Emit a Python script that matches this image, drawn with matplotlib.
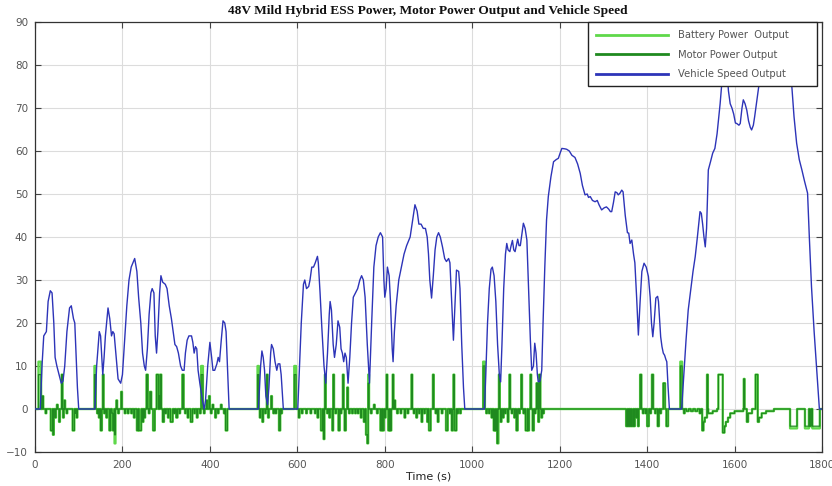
import numpy as np
import matplotlib
matplotlib.use("Agg")
import matplotlib.pyplot as plt
from matplotlib.patches import Rectangle

# ---------------- data ----------------
title = "48V Mild Hybrid ESS Power, Motor Power Output and Vehicle Speed"
x_label = "Time (s)"
legend_labels = ["Battery Power  Output", "Motor Power Output", "Vehicle Speed Output"]
x_ticks = [0, 200, 400, 600, 800, 1000, 1200, 1400, 1600, 1800]
y_ticks = [-10, 0, 10, 20, 30, 40, 50, 60, 70, 80, 90]

speed_t = [0, 12, 16, 20, 26, 30, 35, 39, 43, 46, 50, 55, 60, 64, 68, 73, 79, 83, 88, 91, 97, 100,
           137, 141, 147, 150, 155, 158, 161, 167, 171, 175, 178, 181, 184, 190, 196, 200, 205, 210,
           215, 220, 228, 233, 237, 242, 246, 250, 253, 257, 261, 265, 268, 272, 275, 278, 281, 285,
           288, 292, 298, 302, 307, 312, 316, 320, 324, 328, 333, 337, 341, 344, 348, 352, 358, 361,
           364, 367, 370, 373, 377, 383, 387, 390, 395, 400, 404, 407, 411, 416, 419, 422, 426, 430,
           434, 437, 441, 444,
           511, 516, 519, 522, 525, 528, 532, 535, 539, 541, 545, 549, 553, 556, 560, 563, 568,
           601, 605, 609, 614, 617, 621, 626, 629, 633, 637, 641, 646, 648, 652, 656, 661, 665, 669,
           673, 675, 678, 682, 685, 689, 693, 697, 700, 703, 706, 709, 712, 716, 720, 724, 728, 733,
           738, 743, 747, 751, 755, 760, 765, 770, 775, 780, 785, 790, 795, 798, 800, 803, 806, 810,
           813, 817, 819, 822, 826, 832, 838, 844, 850, 858, 864, 869, 874, 878, 883, 888, 893, 897,
           900, 903, 907, 911, 915, 919, 923, 927, 932, 937, 941, 946, 949, 953, 957, 961, 964, 969,
           972, 976, 980, 983,
           1028, 1031, 1035, 1039, 1043, 1046, 1050, 1054, 1058, 1062, 1065, 1068, 1072, 1076, 1079,
           1082, 1086, 1089, 1092, 1095, 1098, 1101, 1104, 1107, 1110, 1114, 1117, 1121, 1125, 1129,
           1133, 1136, 1140, 1143, 1146, 1149, 1151, 1155, 1159, 1162, 1166, 1170, 1174, 1180, 1186,
           1192, 1197, 1201, 1205, 1212, 1216, 1222, 1228, 1235, 1241, 1247, 1252, 1258, 1263, 1266,
           1270, 1275, 1281, 1286, 1290, 1296, 1302, 1307, 1312, 1316, 1319, 1323, 1327, 1331, 1334,
           1338, 1342, 1345, 1350, 1355, 1358, 1361, 1365, 1369, 1372, 1376, 1380, 1384, 1388, 1393,
           1398, 1403, 1407, 1410, 1413, 1416, 1420, 1424, 1426, 1429, 1431, 1434, 1437, 1440, 1443,
           1445, 1448, 1451,
           1479, 1484, 1489, 1494, 1500, 1505, 1510, 1515, 1519, 1521, 1524, 1527, 1530, 1533, 1536,
           1540, 1545, 1550, 1555, 1560, 1563, 1567, 1571, 1574, 1578, 1582, 1586, 1590, 1594, 1598,
           1602, 1605, 1610, 1613, 1617, 1620, 1624, 1628, 1632, 1636, 1639, 1643, 1646, 1650, 1654,
           1658, 1664, 1670, 1680, 1690, 1700, 1710, 1720, 1727, 1731, 1736, 1742, 1748, 1754, 1760,
           1767, 1771, 1776, 1782, 1788, 1794, 1800]
speed_v = [0, 0, 10, 17, 18, 25, 27.5, 27, 20, 12, 10, 8, 6, 6.5, 10, 18, 23.5, 24, 21, 20, 5, 0,
           0, 10, 18, 17, 8, 12, 17, 23.5, 21, 17, 18, 17.5, 14, 7, 6, 8, 16, 24,
           30, 33, 35, 32, 26, 20, 13, 10, 9, 14, 22, 27, 28, 27, 17, 13, 18, 27,
           31, 29.5, 29, 28, 24, 21, 18, 15, 14.5, 13, 10, 9, 9, 13, 16, 17, 17, 15.5,
           13, 14.5, 14, 9, 6, 2, 0, 2, 10, 15.5, 12, 9, 9, 10.5, 12, 11, 16, 20.5,
           20, 18, 8, 0,
           0, 10, 13.5, 12, 9, 3, 1, 5, 13, 15, 14, 11, 9, 10.5, 10.5, 8, 0,
           0, 10, 20, 29, 30, 28, 28.5, 30, 33, 33, 34, 35.5, 34, 27, 19, 10, 6, 13,
           22, 25, 23, 15, 12, 15, 20.5, 19, 14, 13, 11, 13, 12, 6, 12, 20, 26, 27,
           28, 30, 31, 30, 26, 15, 6, 20, 33, 38, 40, 41, 40, 30, 26, 28, 33, 31,
           25, 14, 11, 18, 24, 30, 33, 36, 38, 40, 44, 47.5, 46, 43, 43, 42, 42, 40,
           36, 30, 25.8, 31, 37, 40, 41, 40, 37.7, 35, 34.3, 35, 34, 25, 16, 25, 32.3, 32,
           28, 15, 5, 0,
           0, 8, 20, 28, 32.5, 33, 31, 25, 15, 8, 6.3, 15, 28, 36, 38.5,
           37, 36.6, 38, 39.2, 37, 36.6, 38, 39.5, 38, 38, 41, 43.2, 42, 39.3, 28,
           16, 9, 10, 15.3, 13, 8, 6.3, 6.5, 9, 20, 33, 44, 49.4, 54, 57.5,
           58, 58.3, 59.5, 60.6, 60.5, 60.4, 60, 59, 58.5, 57, 54.8, 52, 49.8, 50, 49.2,
           49.4, 48.5, 48.2, 48.5, 47.5, 46.3, 46.8, 47, 46.5, 45.9, 45.9, 48, 50.5, 50.3, 49.8,
           50.2, 50.9, 50.5, 45, 41, 40.9, 38.5, 39.3, 36, 34, 26, 17.2, 25, 32, 33.9,
           33, 30.8, 26, 20, 16.8, 20, 25.8, 26.2, 25, 20, 16.8, 14.5, 13, 12.5, 11.5,
           11, 5, 0,
           0, 8, 16, 23, 28, 32, 35.4, 40, 44, 45.9, 45.5, 43, 40, 37.7, 42,
           55.6, 57.5, 59.5, 60.6, 64, 67, 71, 76, 79.6, 82, 80, 74, 71, 70, 68.6,
           66.5, 66.4, 66, 66.4, 70, 71.9, 71, 69.5, 67, 65.5, 64.9, 66, 68, 71, 74,
           77, 82, 85, 87, 86, 84, 86, 85, 80, 75, 68, 61.8, 58, 55.6, 53,
           50.2, 40, 28.4, 18, 9, 0, 0]

# motor power pulses: start time (s), end time (s), value (kW)
motor_start = [8, 17, 24, 36, 41, 46, 50, 55, 61, 64, 67, 72, 86, 91, 95,
               136, 142, 146, 150, 155, 158, 163, 170, 176, 178, 182, 186, 190, 197, 205, 212, 220, 226,
               233, 238, 246, 250, 255, 260, 263, 270, 278, 283, 286, 292, 298, 304, 310, 318, 323, 330,
               337, 343, 349, 356, 364, 370, 377, 380, 386, 392, 398, 402, 406, 412, 418, 425, 432, 436,
               509, 514, 520, 526, 530, 533, 540, 545, 550, 558, 563,
               593, 603, 610, 620, 630, 640, 646, 654, 660, 663, 668, 673, 680, 682, 687, 694, 699, 704,
               708, 714, 718, 725, 732, 738, 745, 752, 757, 760, 762, 768, 775, 782, 790, 795, 800, 804,
               808, 812, 818, 822, 828, 836, 845, 852, 861, 866, 872, 878, 884, 890, 897, 901, 910, 916,
               921, 930, 940, 948, 953, 957, 960, 966, 972,
               1025, 1032, 1038, 1044, 1049, 1053, 1057, 1061, 1065, 1070, 1075, 1081, 1085, 1090, 1096,
               1101, 1107, 1112, 1117, 1122, 1127, 1133, 1138, 1143, 1147, 1151, 1153, 1158, 1162,
               1352, 1357, 1361, 1365, 1370, 1375, 1379, 1384, 1390, 1396, 1400, 1407, 1411, 1418, 1424,
               1430, 1437, 1444,
               1476, 1484, 1490, 1500, 1510, 1520, 1526, 1529, 1532, 1537, 1540, 1550, 1563, 1573, 1577,
               1580, 1585, 1590, 1600, 1621, 1628, 1631, 1648, 1653, 1656, 1662, 1672,
               1727, 1761, 1772, 1778]
motor_end = [14, 19, 26, 40, 43, 48, 52, 57, 63, 66, 69, 74, 90, 93, 97,
             139, 144, 148, 153, 157, 160, 165, 173, 178, 181, 184, 188, 192, 199, 207, 214, 222, 228,
             236, 243, 248, 252, 258, 262, 266, 274, 282, 285, 289, 295, 300, 306, 315, 320, 326, 332,
             340, 345, 351, 360, 366, 372, 379, 384, 388, 394, 400, 404, 408, 414, 420, 427, 434, 440,
             512, 516, 522, 528, 532, 535, 542, 547, 552, 561, 565,
             597, 605, 612, 622, 632, 642, 648, 658, 662, 665, 670, 675, 682, 684, 689, 697, 701, 706,
             711, 716, 720, 727, 734, 740, 747, 755, 760, 762, 764, 770, 777, 784, 793, 798, 802, 806,
             811, 815, 820, 824, 830, 838, 847, 854, 863, 868, 874, 880, 886, 892, 899, 905, 912, 918,
             923, 932, 944, 950, 956, 959, 964, 968, 974,
             1029, 1034, 1040, 1046, 1052, 1056, 1059, 1063, 1067, 1072, 1077, 1083, 1087, 1092, 1098,
             1104, 1109, 1114, 1119, 1126, 1130, 1135, 1141, 1145, 1150, 1153, 1156, 1160, 1164,
             1355, 1359, 1363, 1368, 1372, 1377, 1381, 1387, 1392, 1398, 1404, 1409, 1414, 1420, 1427,
             1432, 1441, 1448,
             1480, 1486, 1495, 1505, 1515, 1523, 1529, 1532, 1537, 1539, 1550, 1560, 1573, 1577, 1580,
             1585, 1590, 1600, 1620, 1623, 1631, 1640, 1653, 1656, 1662, 1672, 1690,
             1743, 1770, 1775, 1795]
motor_val = [8, 3, -1, -5, -6, -2, 1, -3, 8, -2, 2, -1, -5, -1, -2,
             8, -1, -2, -5, 8, -1, -2, -5, -1, -5, -6, 2, -1, 4, -1, -1, -1, -2,
             -5, -5, -3, -2, 8, -1, 4, -5, 8, 3, 8, -3, -1, -2, -3, -1, -2, -1,
             8, -1, -2, -3, -1, -2, -1, 8, -1, 2, 3, -1, 1, -2, -1, 1, -1, -5,
             8, -2, -3, -1, 8, -2, 3, -1, -1, -5, -1,
             8, -2, -1, -1, -1, -1, -2, -5, -7, 8, -1, -2, -5, 8, -1, -5, -1, 8,
             -5, 5, -1, -1, -1, -1, -2, -3, -6, -8, 6, -1, 1, -1, -5, -5, -2, 8,
             -5, -5, 8, 2, -1, -1, -2, -1, 8, -1, -2, -1, -3, -1, -3, -5, 8, -1,
             -3, -1, -5, -1, -5, 8, -5, -1, -1,
             10, -1, -1, -2, -5, -5, -8, 8, -3, -2, -1, -3, 8, -1, -2,
             -5, -1, 8, -1, -5, -5, 8, -5, -1, 6, -3, 8, -2, -1,
             -4, -4, -4, -4, -4, -2, -4, 8, -1, -1, -4, -1, 8, -1, -4,
             -1, 6, -4,
             10, -1, -0.5, -0.5, -0.5, -1, -5, -3, -2, 8, -1, -0.5, 8, -5.5, -4,
             -3, -2, -1, -0.5, 7, -3, -1, 8, -3, -2, -1, -0.5,
             -4, -4, -4, -4]

# battery power pulses where it differs from the motor trace
battery_start = [8, 136, 182, 380, 509, 593, 762, 1025, 1057, 1476, 1727, 1761, 1778]
battery_end = [14, 139, 184, 384, 512, 597, 764, 1029, 1060, 1480, 1743, 1770, 1795]
battery_val = [11, 10, -8, 10, 10, 10, 8, 11, -8, 11, -4.5, -4.5, -4.5]

# ---------------- build the step series on a 1 s grid ----------------
time_grid = np.arange(0, 1801)
motor_p = np.zeros(time_grid.size)
for s, e, v in zip(motor_start, motor_end, motor_val):
    motor_p[s:e] = v
battery_p = motor_p.copy()
for s, e, v in zip(battery_start, battery_end, battery_val):
    battery_p[s:e] = v

# ---------------- figure ----------------
W, H = 832, 486
fig = plt.figure(figsize=(W / 100, H / 100), dpi=100)
ax = fig.add_axes([35 / W, 1 - 452 / H, (822 - 35) / W, (452 - 22) / H])

c_batt = "#5fd84a"
c_motor = "#1f8a1f"
c_speed = "#2d34b8"

ax.plot(time_grid, battery_p, color=c_batt, lw=1.7, drawstyle="steps-post",
        label=legend_labels[0], zorder=2)
ax.plot(time_grid, motor_p, color=c_motor, lw=0.9, drawstyle="steps-post",
        label=legend_labels[1], zorder=3)
ax.plot(speed_t, speed_v, color=c_speed, lw=1.0, label=legend_labels[2], zorder=4)

ax.set_xlim(0, 1800)
ax.set_ylim(-10, 90)
ax.set_xticks(x_ticks)
ax.set_yticks(y_ticks)
ax.grid(True, color="#dcdcdc", lw=0.8)
ax.set_axisbelow(True)
ax.tick_params(direction="in", top=True, right=True, length=4, width=0.8,
               colors="#444444", labelsize=7.5, labelcolor="#555555")
ax.tick_params(axis="x", pad=6)
ax.tick_params(axis="y", pad=5)
for sp in ax.spines.values():
    sp.set_color("#333333")
    sp.set_linewidth(0.9)

ax.set_xlabel(x_label, fontsize=8, color="#222222", labelpad=1)
fig.text(428 / W, 1 - 11 / H, title, ha="center", va="center",
         family="Liberation Serif", fontweight="bold", fontsize=9.6, color="#111111")

# legend box (MATLAB style, with blank space on the right)
box = Rectangle((588 / W, 1 - 86 / H), (817 - 588) / W, (86 - 22) / H,
                transform=fig.transFigure, facecolor="white", edgecolor="#222222",
                lw=1.0, zorder=9, clip_on=False)
ax.add_artist(box)

handles, labels = ax.get_legend_handles_labels()
leg = ax.legend(handles, labels, loc="upper left",
                bbox_to_anchor=(596 / W, 1 - 30 / H), bbox_transform=fig.transFigure,
                borderaxespad=0, borderpad=0, frameon=False, fontsize=7.2,
                handlelength=7.2, handletextpad=1.0, labelspacing=0.95)
for t in leg.get_texts():
    t.set_color("#555555")
for l in leg.get_lines():
    l.set_linewidth(2.0)
leg.set_zorder(10)

fig.savefig("out.png", dpi=100)
